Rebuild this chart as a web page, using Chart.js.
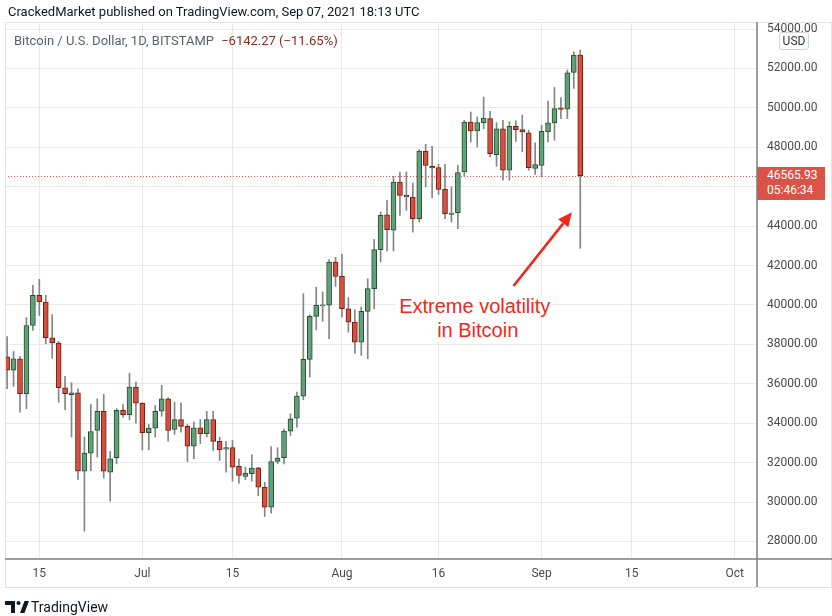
<!DOCTYPE html>
<html><head><meta charset="utf-8">
<script src="https://cdn.jsdelivr.net/npm/chart.js@4.4.0/dist/chart.umd.min.js"></script>
<style>
html,body{margin:0;padding:0;background:#fff;}
#wrap{position:relative;width:832px;height:616px;overflow:hidden;font-family:Roboto,"Liberation Sans",sans-serif;}
canvas{position:absolute;left:0;top:0;}
.t{position:absolute;white-space:nowrap;}
</style></head><body>
<div id="wrap">
<canvas id="c" width="832" height="616"></canvas>
<div class="t" id="hdr" style="left:8px;top:4px;font-size:13px;color:#131722;">CrackedMarket published on TradingView.com, Sep 07, 2021 18:13 UTC</div>
<div class="t" id="leg" style="left:14px;top:33px;font-size:13px;color:#5d606b;">Bitcoin / U.S. Dollar, 1D, BITSTAMP <span style="color:#8b2b22;margin-left:4px">−6142.27 (−11.65%)</span></div>
<div class="t" id="usd" style="left:779px;top:32px;width:28px;height:16px;border:1px solid #d1d4dc;border-radius:3px;background:#fff;font-size:12px;color:#333;text-align:center;line-height:16px;">USD</div>
<div class="t" id="price" style="left:757px;width:58px;height:32px;padding-left:10px;background:#db5346;color:#fff;font-size:12px;line-height:15px;padding-top:1px;box-sizing:content-box;"><div id="pv"></div><div>05:46:34</div></div>
<div class="t" id="ann1" style="font-family:'Liberation Sans',Arial,sans-serif;font-size:20px;color:#f0281c;background:#fff;line-height:22px;padding:0 3px;">Extreme volatility</div>
<div class="t" id="ann2" style="font-family:'Liberation Sans',Arial,sans-serif;font-size:20px;color:#f0281c;background:#fff;line-height:22px;padding:0 3px;">in Bitcoin</div>
<div class="t" style="left:5px;top:598px;">
<svg width="24" height="14" viewBox="0 0 24 14" style="position:absolute;left:0;top:3px">
<rect x="0" y="0" width="10" height="4" fill="#131722"/><rect x="6" y="0" width="4" height="12" fill="#131722"/>
<circle cx="13.5" cy="2" r="2" fill="#131722"/><polygon points="15,12 19.5,0 24,0 19.5,12" fill="#131722"/>
</svg>
<div class="t" style="left:26px;top:1px;font-size:14px;color:#131722;">TradingView</div>
</div>
</div>
<script>
const dates = ['2021-06-10','2021-06-11','2021-06-12','2021-06-13','2021-06-14','2021-06-15','2021-06-16','2021-06-17','2021-06-18','2021-06-19','2021-06-20','2021-06-21','2021-06-22','2021-06-23','2021-06-24','2021-06-25','2021-06-26','2021-06-27','2021-06-28','2021-06-29','2021-06-30',
'2021-07-01','2021-07-02','2021-07-03','2021-07-04','2021-07-05','2021-07-06','2021-07-07','2021-07-08','2021-07-09','2021-07-10','2021-07-11','2021-07-12','2021-07-13','2021-07-14','2021-07-15','2021-07-16','2021-07-17','2021-07-18','2021-07-19','2021-07-20','2021-07-21','2021-07-22','2021-07-23','2021-07-24','2021-07-25','2021-07-26','2021-07-27','2021-07-28','2021-07-29','2021-07-30','2021-07-31',
'2021-08-01','2021-08-02','2021-08-03','2021-08-04','2021-08-05','2021-08-06','2021-08-07','2021-08-08','2021-08-09','2021-08-10','2021-08-11','2021-08-12','2021-08-13','2021-08-14','2021-08-15','2021-08-16','2021-08-17','2021-08-18','2021-08-19','2021-08-20','2021-08-21','2021-08-22','2021-08-23','2021-08-24','2021-08-25','2021-08-26','2021-08-27','2021-08-28','2021-08-29','2021-08-30','2021-08-31',
'2021-09-01','2021-09-02','2021-09-03','2021-09-04','2021-09-05','2021-09-06','2021-09-07'];
const opens = [37370,36690,37270,35500,38960,40490,40150,38340,38070,35800,35450,35540,31570,32480,33630,34600,31520,32250,34650,34430,35830,
35020,33520,33750,34610,35240,33690,34180,33840,32840,33770,33470,34190,33080,32690,32760,31810,31300,31440,31740,30760,29740,32060,32250,33600,34260,35380,37240,39420,39950,39990,42180,
41450,39810,39130,38120,39680,40830,42810,44580,43800,46240,45560,45480,44380,47810,47030,46970,45870,44600,44690,46750,49280,48830,49250,49460,47630,48940,46840,49060,48900,48730,46930,
47080,48780,49240,50000,49940,51800,52680];
const highs = [38400,37640,37390,39360,41000,41300,40490,39510,38150,36380,36060,35750,33300,34950,35240,35460,32580,34740,34950,36540,36090,
35050,33940,34900,35920,35300,35070,35020,33940,34060,34190,34600,34610,33300,33080,33130,32200,31770,32400,31760,31010,32820,32760,33700,34480,35580,40570,39500,40910,40660,42300,42420,
42570,40370,39760,39900,41330,43330,44720,45310,46530,46750,46750,46190,47890,48150,48050,47140,47140,45990,47090,49370,49790,49540,50550,49830,49250,49370,49290,49340,49630,48870,48230,
49120,50350,51040,50530,51920,52850,52930];
const lows = [35750,35870,34560,34740,38710,39470,38030,37300,35070,34690,33300,31150,28520,31600,32280,31230,30050,31940,34310,34180,34000,
32650,32650,33300,34350,33090,33430,33550,32060,32200,32960,33300,32620,32110,31520,31060,30960,31130,31060,30330,29270,29440,31940,31940,33380,33800,35190,36340,38740,39170,38290,40940,
39390,38620,37560,37440,37270,39810,42180,42740,42740,44550,44800,43700,44210,45990,45450,45610,44380,44210,43870,46530,48270,48020,48940,47510,47030,46330,46330,48300,47770,46840,46630,
46500,48270,48360,49450,49460,50990,42880];
const closes = [36690,37270,35500,38960,40490,40150,38340,38070,35800,35500,35540,31570,32480,33580,34600,31570,32200,34650,34430,35830,35020,
33520,33750,34610,35240,33630,34180,33840,32840,33770,33470,34190,33080,32650,32760,31770,31350,31470,31720,30760,29740,32060,32230,33600,34230,35380,37240,39420,39980,40010,42180,41450,
39810,39130,38120,39680,40830,42810,44550,43820,46240,45560,45480,44380,47810,47080,46950,45870,44630,44670,46720,49280,48830,49250,49490,47680,48940,46840,49060,48900,48780,46970,47130,
48810,49240,49970,49920,51780,52680,46565.93];
const xTickDates = ['2021-06-15','2021-07-01','2021-07-15','2021-08-01','2021-08-16','2021-09-01','2021-09-15','2021-10-01'];
const xTickLabels = ['15','Jul','15','Aug','16','Sep','15','Oct'];
const yTicks = [28000,30000,32000,34000,36000,38000,40000,42000,44000,46000,48000,50000,52000,54000];
const lastPriceLabel = '46565.93';
const arrowFrom = {date:'2021-08-27', offset:0.64, value:40962};
const arrowTo = {date:'2021-09-05', offset:0.71, value:44700};

const ref = Date.parse('2021-06-15');
const dayOf = d => Math.round((Date.parse(d) - ref) / 86400000);
const days = dates.map(dayOf);
const xTickDays = xTickDates.map(dayOf);

const GREEN = '#62a07a', GREEN_B = '#24502f', RED = '#d5503f', RED_B = '#6e1d12';
const isUp = i => closes[i] >= opens[i];

const framePlugin = {
  id: 'frame',
  beforeDatasetsDraw(chart) {
    const {ctx, chartArea: a, scales: {y}} = chart;
    const py = y.getPixelForValue(closes[closes.length - 1]);
    ctx.save();
    ctx.strokeStyle = '#e0534a';
    ctx.lineWidth = 1;
    ctx.setLineDash([1, 2]);
    ctx.beginPath();
    ctx.moveTo(a.left, Math.round(py) + 0.5);
    ctx.lineTo(a.right, Math.round(py) + 0.5);
    ctx.stroke();
    ctx.restore();
  },
  afterDraw(chart) {
    const {ctx, chartArea: a, scales: {x, y}} = chart;
    ctx.save();
    ctx.strokeStyle = '#e3e3e3';
    ctx.lineWidth = 1;
    ctx.strokeRect(a.left + 0.5, a.top + 0.5, chart.width - a.left - 1, x.bottom - a.top);
    ctx.strokeStyle = '#7d7d7d';
    ctx.lineWidth = 1.5;
    ctx.beginPath();
    ctx.moveTo(a.left, a.bottom);
    ctx.lineTo(chart.width, a.bottom);
    ctx.moveTo(a.right, a.top);
    ctx.lineTo(a.right, x.bottom);
    ctx.stroke();
    const x1 = x.getPixelForValue(dayOf(arrowFrom.date) + arrowFrom.offset), y1 = y.getPixelForValue(arrowFrom.value);
    const x2 = x.getPixelForValue(dayOf(arrowTo.date) + arrowTo.offset), y2 = y.getPixelForValue(arrowTo.value);
    const ang = Math.atan2(y2 - y1, x2 - x1);
    const hl = 14, hw = 6.5;
    const bx = x2 - hl * Math.cos(ang), by = y2 - hl * Math.sin(ang);
    ctx.strokeStyle = '#f0281c';
    ctx.fillStyle = '#f0281c';
    ctx.lineWidth = 2.6;
    ctx.beginPath();
    ctx.moveTo(x1, y1);
    ctx.lineTo(bx, by);
    ctx.stroke();
    ctx.beginPath();
    ctx.moveTo(x2, y2);
    ctx.lineTo(bx + hw * Math.sin(ang), by - hw * Math.cos(ang));
    ctx.lineTo(bx - hw * Math.sin(ang), by + hw * Math.cos(ang));
    ctx.closePath();
    ctx.fill();
    ctx.restore();
  }
};

const chart = new Chart(document.getElementById('c'), {
  type: 'bar',
  data: {
    datasets: [
      {
        label: 'body',
        data: days.map((d, i) => ({x: d, y: [opens[i], closes[i]]})),
        backgroundColor: c => isUp(c.dataIndex) ? GREEN : RED,
        borderColor: c => isUp(c.dataIndex) ? GREEN_B : RED_B,
        borderWidth: 1,
        borderSkipped: false,
        barThickness: 5,
        grouped: false,
        order: 0
      },
      {
        label: 'wick',
        data: days.map((d, i) => ({x: d, y: [lows[i], highs[i]]})),
        backgroundColor: '#858585',
        borderWidth: 0,
        barThickness: 1,
        grouped: false,
        order: 1
      }
    ]
  },
  options: {
    responsive: false,
    animation: false,
    devicePixelRatio: 1,
    layout: {padding: {top: 22, left: 5, right: 0, bottom: 29}},
    plugins: {legend: {display: false}, tooltip: {enabled: false}},
    scales: {
      x: {
        type: 'linear', min: -5.33, max: 111.45, offset: false,
        grid: {color: '#e9e9e9', offset: false, drawTicks: false},
        border: {display: false},
        afterBuildTicks: s => { s.ticks = xTickDays.map(v => ({value: v})); },
        ticks: {callback: (v, i) => xTickLabels[i], autoSkip: false, maxRotation: 0, font: {family: 'Roboto', size: 12}, color: '#4a4a4a', padding: 8},
        afterFit: s => { s.height = 28; }
      },
      y: {
        position: 'right', min: 27112, max: 54359, beginAtZero: false,
        grid: {color: '#e9e9e9', drawTicks: false},
        border: {display: false},
        afterBuildTicks: s => { s.ticks = yTicks.map(v => ({value: v})); },
        ticks: {callback: v => Number(v).toFixed(2), font: {family: 'Roboto', size: 12}, color: '#4a4a4a', padding: 10},
        afterFit: s => { s.width = 75; }
      }
    }
  },
  plugins: [framePlugin]
});

const ys = chart.scales.y, xs = chart.scales.x;
const py = ys.getPixelForValue(closes[closes.length - 1]);
document.getElementById('pv').textContent = lastPriceLabel;
document.getElementById('price').style.top = (py - 9) + 'px';
const a1 = document.getElementById('ann1'), a2 = document.getElementById('ann2');
const ax = xs.getPixelForValue(dayOf('2021-08-21') + 0.6);
a1.style.left = (ax - a1.offsetWidth / 2) + 'px';
a1.style.top = (ys.getPixelForValue(39960) - 11) + 'px';
a2.style.left = (ax + 3 - a2.offsetWidth / 2) + 'px';
a2.style.top = (ys.getPixelForValue(38740) - 11) + 'px';
</script>
</body></html>
